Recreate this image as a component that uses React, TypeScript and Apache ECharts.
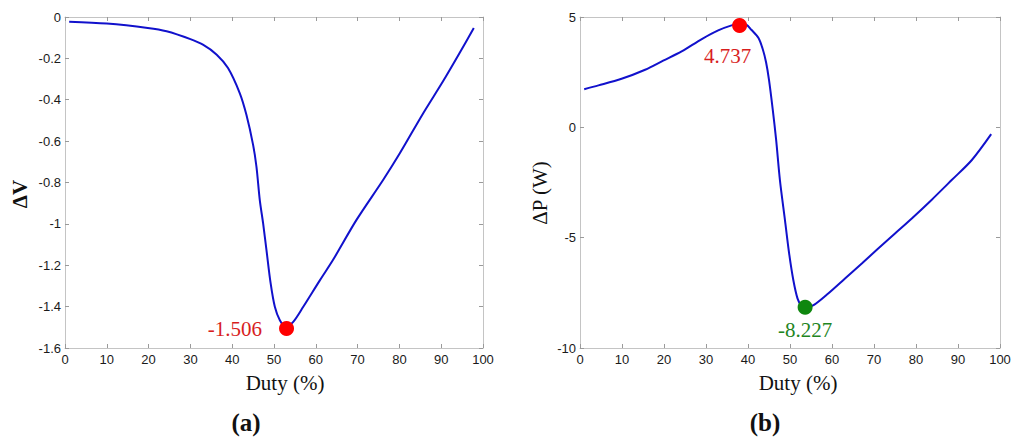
import React, { useEffect, useRef } from "react";
import * as echarts from "echarts";

// Panel (a): ΔV versus duty
const dutyA = [1, 10, 19.8, 24.3, 30, 33, 36.3, 39, 41.8, 43.4, 45, 45.8, 46.6, 47.4, 48.2, 49.2, 50.2, 51.4, 52.8, 54.6, 57, 61, 64.1, 69.7, 76.1, 80.1, 85.7, 90.4, 94.4, 97.8];
const deltaV = [-0.023, -0.032, -0.053, -0.069, -0.107, -0.134, -0.182, -0.247, -0.368, -0.473, -0.618, -0.723, -0.885, -0.998, -1.127, -1.288, -1.401, -1.466, -1.498, -1.474, -1.401, -1.272, -1.175, -0.982, -0.788, -0.659, -0.465, -0.312, -0.174, -0.053];
const markA = [53, -1.506];
const markALabel = "-1.506";

// Panel (b): ΔP versus duty
const dutyB = [1, 4.4, 9.9, 15.5, 19.8, 24.2, 29, 32.9, 36.1, 37.9, 39.6, 40.8, 42.5, 43.5, 44.3, 45, 45.9, 46.7, 47.6, 48.8, 49.8, 50.8, 51.8, 52.8, 53.7, 55.6, 59.1, 63.1, 67.1, 71, 75, 79, 83.7, 88.5, 93.3, 97.9];
const deltaP = [1.73, 1.9, 2.2, 2.61, 3.02, 3.44, 4.0, 4.39, 4.62, 4.68, 4.65, 4.42, 4.05, 3.55, 2.95, 2.15, 0.79, -0.57, -2.39, -4.2, -5.72, -6.93, -7.76, -8.11, -8.17, -8.06, -7.53, -6.85, -6.17, -5.49, -4.81, -4.13, -3.29, -2.39, -1.48, -0.31];
const markBMax = [38, 4.62];
const markBMaxLabel = "4.737";
const markBMin = [53.6, -8.15];
const markBMinLabel = "-8.227";

const xTitle = "Duty (%)";
const yTitleA = "ΔV";
const yTitleB = "ΔP (W)";
const panelA = "(a)";
const panelB = "(b)";

const BOX = "#c4c4c4";
const TICK = "#9a9a9a";
const LINE = "#1111cc";
const SANS = "'Liberation Sans', Arial, sans-serif";
const SERIF = "'Liberation Serif', 'Times New Roman', serif";

function xAx(grid: number, pos: "bottom" | "top", labels: boolean) {
  return {
    type: "value",
    gridIndex: grid,
    position: pos,
    min: 0,
    max: 100,
    interval: 10,
    axisLine: { show: true, onZero: false, lineStyle: { color: BOX, width: 1 } },
    axisTick: { show: true, inside: true, length: 4, lineStyle: { color: TICK } },
    axisLabel: { show: labels, color: "#1a1a1a", fontFamily: SANS, fontSize: 13, margin: 5 },
    splitLine: { show: false },
  };
}

function yAx(grid: number, pos: "left" | "right", labels: boolean, min: number, max: number, interval: number) {
  return {
    type: "value",
    gridIndex: grid,
    position: pos,
    min,
    max,
    interval,
    axisLine: { show: true, onZero: false, lineStyle: { color: BOX, width: 1 } },
    axisTick: { show: true, inside: true, length: 4, lineStyle: { color: TICK } },
    axisLabel: { show: labels, color: "#1a1a1a", fontFamily: SANS, fontSize: 13, margin: 4 },
    splitLine: { show: false },
  };
}

function marker(
  xIdx: number,
  yIdx: number,
  point: number[],
  fill: string,
  text: string,
  textColor: string,
  pos: string,
  distance: number,
  offset: number[]
) {
  return {
    type: "scatter",
    xAxisIndex: xIdx,
    yAxisIndex: yIdx,
    symbolSize: 15,
    itemStyle: { color: fill, opacity: 1 },
    data: [point],
    label: {
      show: true,
      position: pos,
      distance,
      offset,
      formatter: text,
      color: textColor,
      opacity: 1,
      fontFamily: SERIF,
      fontSize: 21,
    },
    emphasis: { disabled: true },
    z: 5,
  };
}

function App() {
  const ref = useRef<HTMLDivElement>(null);
  useEffect(() => {
    if (!ref.current) return;
    const chart = echarts.init(ref.current, null, { renderer: "svg" });
    const lineA = dutyA.map((d, i) => [d, deltaV[i]]);
    const lineB = dutyB.map((d, i) => [d, deltaP[i]]);
    chart.setOption({
      animation: false,
      backgroundColor: "#ffffff",
      grid: [
        { left: 65, top: 17, width: 418, height: 331 },
        { left: 580, top: 17, width: 420, height: 331 },
      ],
      xAxis: [xAx(0, "bottom", true), xAx(0, "top", false), xAx(1, "bottom", true), xAx(1, "top", false)],
      yAxis: [
        yAx(0, "left", true, -1.6, 0, 0.2),
        yAx(0, "right", false, -1.6, 0, 0.2),
        yAx(1, "left", true, -10, 5, 5),
        yAx(1, "right", false, -10, 5, 5),
      ],
      series: [
        {
          type: "line",
          xAxisIndex: 0,
          yAxisIndex: 0,
          data: lineA,
          smooth: 0.3,
          symbol: "none",
          lineStyle: { color: LINE, width: 2 },
        },
        {
          type: "line",
          xAxisIndex: 2,
          yAxisIndex: 2,
          data: lineB,
          smooth: 0.3,
          symbol: "none",
          lineStyle: { color: LINE, width: 2 },
        },
        marker(0, 0, markA, "#ff0000", markALabel, "#d81e1e", "left", 17, [0, 0]),
        marker(2, 2, markBMax, "#ff0000", markBMaxLabel, "#d81e1e", "bottom", 13, [-12, 0]),
        marker(2, 2, markBMin, "#0f870f", markBMinLabel, "#1f861f", "bottom", 5, [0, 0]),
      ],
      graphic: [
        {
          type: "text",
          x: 285,
          y: 383,
          style: { text: xTitle, font: `21px ${SERIF}`, fill: "#111", align: "center", verticalAlign: "middle" },
        },
        {
          type: "text",
          x: 798,
          y: 383,
          style: { text: xTitle, font: `21px ${SERIF}`, fill: "#111", align: "center", verticalAlign: "middle" },
        },
        {
          type: "text",
          x: 246,
          y: 422,
          style: { text: panelA, font: `bold 25px ${SERIF}`, fill: "#111", align: "center", verticalAlign: "middle" },
        },
        {
          type: "text",
          x: 765,
          y: 422,
          style: { text: panelB, font: `bold 25px ${SERIF}`, fill: "#111", align: "center", verticalAlign: "middle" },
        },
        {
          type: "text",
          x: 19.5,
          y: 194,
          rotation: Math.PI / 2,
          style: { text: yTitleA, font: `bold 21px ${SERIF}`, fill: "#111", align: "center", verticalAlign: "middle" },
        },
        {
          type: "text",
          x: 540,
          y: 193,
          rotation: Math.PI / 2,
          style: { text: yTitleB, font: `21px ${SERIF}`, fill: "#111", align: "center", verticalAlign: "middle" },
        },
      ],
    });
    return () => chart.dispose();
  }, []);
  return (
    <div
      ref={ref}
      style={{ position: "fixed", left: 0, top: 0, width: 1024, height: 443, background: "#fff" }}
    />
  );
}

export default App;
